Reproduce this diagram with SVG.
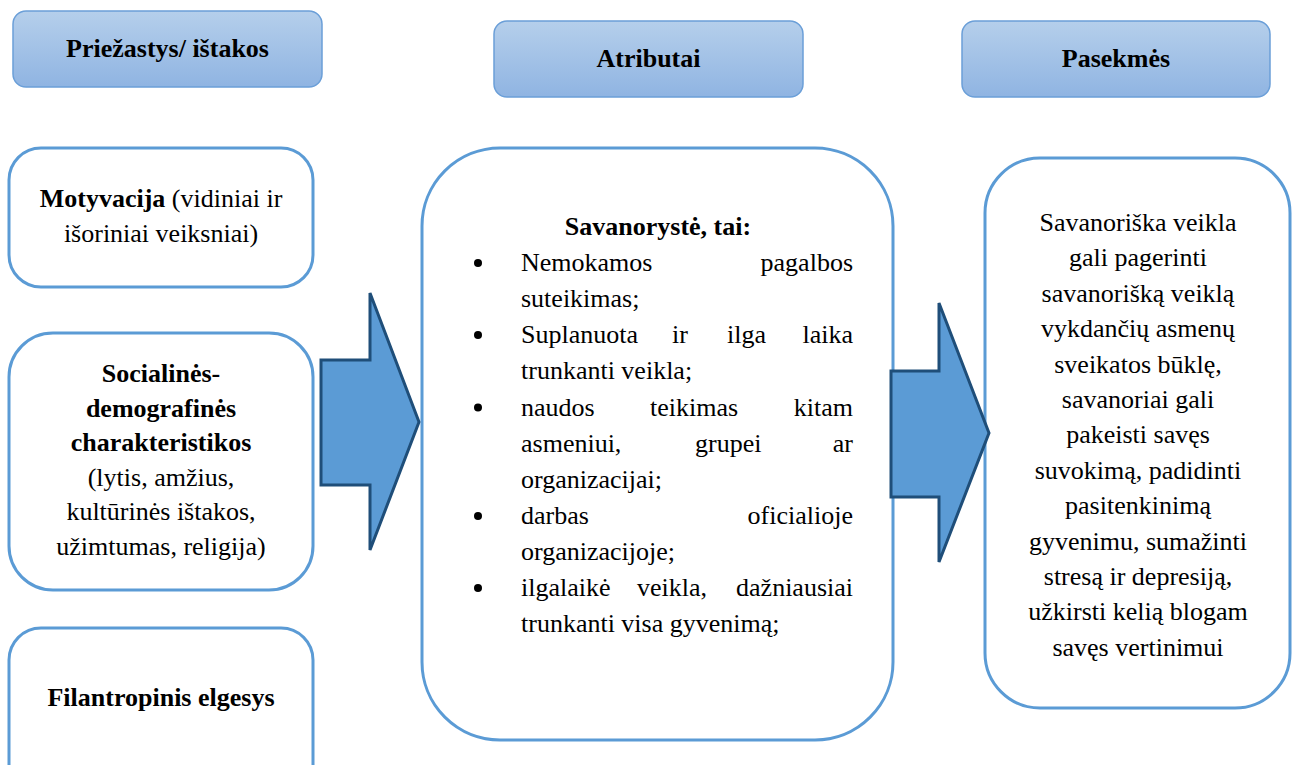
<svg xmlns="http://www.w3.org/2000/svg" width="1297" height="765" viewBox="0 0 1297 765">
<defs>
<linearGradient id="hg" x1="0" y1="0" x2="0" y2="1">
<stop offset="0" stop-color="#b5cfeb"/>
<stop offset="1" stop-color="#8fb4e2"/>
</linearGradient>
<style>
.hdr{fill:url(#hg);stroke:#6b9fd8;stroke-width:1.5}
.box{fill:#fff;stroke:#5b9bd5;stroke-width:3}
.arr{fill:#5b9bd5;stroke:#1f4e79;stroke-width:3;stroke-linejoin:miter}
.t{font-family:'Liberation Serif','Times New Roman','DejaVu Serif',serif;font-size:26px;fill:#000}
.b{font-weight:bold}
.c{text-anchor:middle}
.e{text-anchor:end}
</style>
</defs>
<rect width="1297" height="765" fill="#fff"/>
<g class="t" font-family="Liberation Serif, Times New Roman, DejaVu Serif, serif" font-size="26">

<g id="hdr-causes">
<rect class="hdr" x="13" y="11" width="309" height="76" rx="13"/>
<text class="b c" x="167.5" y="57">Priežastys/ ištakos</text>
</g>
<g id="hdr-attributes">
<rect class="hdr" x="494" y="21" width="309" height="76" rx="13"/>
<text class="b c" x="648.5" y="67">Atributai</text>
</g>
<g id="hdr-consequences">
<rect class="hdr" x="962" y="21" width="308" height="76" rx="13"/>
<text class="b c" x="1116" y="67">Pasekmės</text>
</g>

<g id="motivation">
<rect class="box" x="9" y="148" width="304" height="139" rx="32"/>
<text class="c" x="161" y="207"><tspan class="b">Motyvacija</tspan> (vidiniai ir</text>
<text class="c" x="161" y="242">išoriniai veiksniai)</text>
</g>

<g id="sociodemographic">
<rect class="box" x="9" y="333" width="304" height="257" rx="44"/>
<text class="b c" x="161" y="382">Socialinės-</text>
<text class="b c" x="161" y="417">demografinės</text>
<text class="b c" x="161" y="451">charakteristikos</text>
<text class="c" x="161" y="486">(lytis, amžius,</text>
<text class="c" x="161" y="520">kultūrinės ištakos,</text>
<text class="c" x="161" y="555">užimtumas, religija)</text>
</g>

<g id="philanthropy">
<rect class="box" x="9" y="628" width="304" height="175" rx="32"/>
<text class="b c" x="161" y="706">Filantropinis elgesys</text>
</g>

<g id="volunteering">
<rect class="box" x="422" y="148" width="471" height="592" rx="78"/>
<text class="b c" x="658" y="235">Savanorystė, tai:</text>
<g fill="#000">
<circle cx="478" cy="263" r="4"/>
<circle cx="478" cy="335" r="4"/>
<circle cx="478" cy="407.5" r="4"/>
<circle cx="478" cy="516" r="4"/>
<circle cx="478" cy="588" r="4"/>
</g>
<text x="521" y="271">Nemokamos</text><text class="e" x="853" y="271">pagalbos</text>
<text x="521" y="307">suteikimas;</text>
<text x="521" y="343">Suplanuota</text><text x="672" y="343">ir</text><text x="727" y="343">ilga</text><text class="e" x="853" y="343">laika</text>
<text x="521" y="379">trunkanti veikla;</text>
<text x="521" y="415.5">naudos</text><text x="650" y="415.5">teikimas</text><text class="e" x="853" y="415.5">kitam</text>
<text x="521" y="451.5">asmeniui,</text><text x="695" y="451.5">grupei</text><text class="e" x="853" y="451.5">ar</text>
<text x="521" y="487.5">organizacijai;</text>
<text x="521" y="524">darbas</text><text class="e" x="853" y="524">oficialioje</text>
<text x="521" y="560">organizacijoje;</text>
<text x="521" y="596">ilgalaikė</text><text x="637" y="596">veikla,</text><text class="e" x="853" y="596">dažniausiai</text>
<text x="521" y="632">trunkanti visa gyvenimą;</text>
</g>

<g id="effects">
<rect class="box" x="985" y="158" width="305" height="550" rx="55"/>
<text class="c" x="1138" y="231">Savanoriška veikla</text>
<text class="c" x="1138" y="266.4">gali pagerinti</text>
<text class="c" x="1138" y="301.8">savanorišką veiklą</text>
<text class="c" x="1138" y="337.2">vykdančių asmenų</text>
<text class="c" x="1138" y="372.6">sveikatos būklę,</text>
<text class="c" x="1138" y="408">savanoriai gali</text>
<text class="c" x="1138" y="443.4">pakeisti savęs</text>
<text class="c" x="1138" y="478.8">suvokimą, padidinti</text>
<text class="c" x="1138" y="514.2">pasitenkinimą</text>
<text class="c" x="1138" y="549.6">gyvenimu, sumažinti</text>
<text class="c" x="1138" y="585">stresą ir depresiją,</text>
<text class="c" x="1138" y="620.4">užkirsti kelią blogam</text>
<text class="c" x="1138" y="655.8">savęs vertinimui</text>
</g>

<g id="connectors">
<polygon class="arr" points="321,360 370,360 370,293 419,422 370,550 370,485 321,485"/>
<polygon class="arr" points="891,371 939,371 939,303 989,433 939,562 939,497 891,497"/>
</g>
</g>
</svg>
